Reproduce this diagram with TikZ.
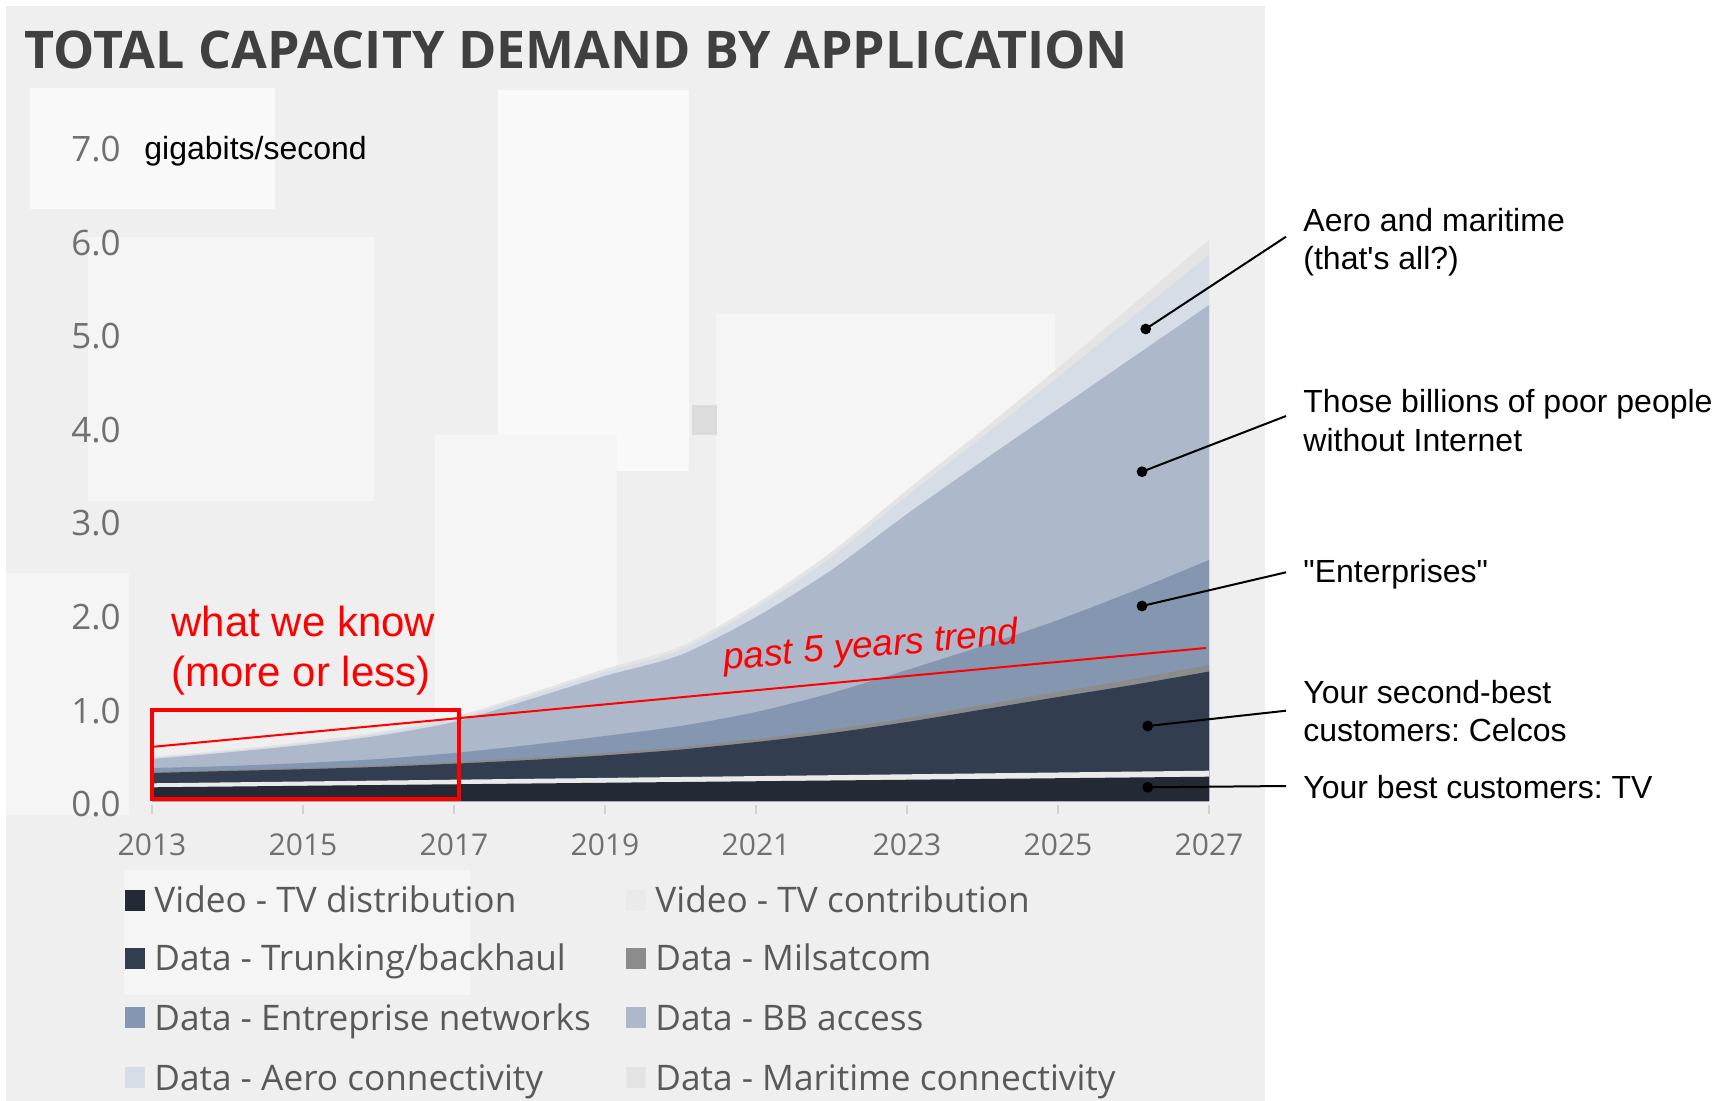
\documentclass[tikz,border=0pt]{standalone}
\usepackage{fontspec}
\setmainfont{Liberation Sans}[Ligatures=TeXOff]
\newfontfamily\osans{Open Sans}
\frenchspacing
\definecolor{bgpanel}{HTML}{EFEFEF}
\definecolor{bglight}{HTML}{F5F5F5}
\definecolor{bgwhite}{HTML}{F9F9F9}
\definecolor{bgshade}{HTML}{DCDCDC}
\definecolor{titlec}{HTML}{404040}
\definecolor{tickgray}{HTML}{707070}
\definecolor{leggray}{HTML}{595959}
\definecolor{tickc}{HTML}{D2D2D2}
\definecolor{cTV}{HTML}{232935}
\definecolor{cContrib}{HTML}{EAEAEA}
\definecolor{cTrunk}{HTML}{333D50}
\definecolor{cMil}{HTML}{8C8C8C}
\definecolor{cEnt}{HTML}{8597B0}
\definecolor{cBB}{HTML}{ADB8CB}
\definecolor{cAero}{HTML}{D6DDE7}
\definecolor{cMar}{HTML}{E4E4E4}
\tikzset{
  ylab/.style={font=\osans\fontsize{17.5}{20}\selectfont, text=tickgray, inner sep=0, anchor=base east},
  yrlbl/.style={font=\osans\fontsize{15}{18}\selectfont, text=tickgray, inner sep=0, anchor=base},
  leg/.style={font=\osans\fontsize{17.6}{20}\selectfont, text=leggray, inner sep=0, anchor=base west},
  legbox/.style={minimum width=10pt, minimum height=10.5pt, inner sep=0, anchor=center},
  note/.style={font=\fontsize{16}{19.25}\selectfont, inner sep=0, anchor=base west, align=left},
  lead/.style={line width=1pt},
  dotmark/.style={circle, fill=black, inner sep=0, minimum size=5.4pt},
  redtxt/.style={text=red, font=\fontsize{21}{25}\selectfont, inner sep=0, anchor=base west, align=left},
  layer/.style={smooth, tension=0.45}
}
\begin{document}
\begin{tikzpicture}[x=0.5pt,y=-0.5pt]
\useasboundingbox (0,0) rectangle (1727,1101);
\fill[white] (0,0) rectangle (1727,1101);
% background panel
\fill[bgpanel] (6,6) rectangle (1265,1101);
\fill[bgwhite] (30,88) rectangle (275,209);
\fill[bglight] (88,237) rectangle (374,501);
\fill[bgwhite] (498,90) rectangle (689,471);
\fill[bglight] (716,314) rectangle (1055,771);
\fill[bglight] (435,435) rectangle (617,790);
\fill[bglight] (6,573) rectangle (129,815);
\fill[bglight] (124,870) rectangle (470,995);
\fill[bgshade] (692,405) rectangle (717,435);

% title
\node[font=\osans\bfseries\fontsize{25.95}{30}\selectfont, text=titlec, inner sep=0, anchor=base west] (title) at (24,69) {TOTAL CAPACITY DEMAND BY APPLICATION};

% stacked areas
\fill[cMar] plot[layer] coordinates {(152,757) (227.5,750) (303,742) (378.5,732) (454,717) (529.5,693.5) (605,669) (680.5,646.5) (756,604) (831.5,552) (907,490) (982.5,430) (1058,368) (1133.5,304) (1209,240)} -- (1209,801) -- (152,801) -- cycle;
\fill[cAero] plot[layer] coordinates {(152,758) (227.5,751.2) (303,743.5) (378.5,733.7) (454,719) (529.5,696) (605,672) (680.5,650) (756,608) (831.5,557) (907,496) (982.5,437) (1058,377) (1133.5,316) (1209,255)} -- (1209,801) -- (152,801) -- cycle;
\fill[cBB] plot[layer] coordinates {(152,759) (227.5,752.4) (303,745) (378.5,735.7) (454,722) (529.5,699.5) (605,676) (680.5,655) (756,617) (831.5,570) (907,514) (982.5,461) (1058,409) (1133.5,357) (1209,305)} -- (1209,801) -- (152,801) -- cycle;
\fill[cEnt] plot[layer] coordinates {(152,768) (227.5,766) (303,763) (378.5,759) (454,753) (529.5,745) (605,736) (680.5,726) (756,712) (831.5,693) (907,670) (982.5,646) (1058,620) (1133.5,591) (1209,560)} -- (1209,801) -- (152,801) -- cycle;
\fill[cMil] plot[layer] coordinates {(152,772) (227.5,770) (303,768) (378.5,765.5) (454,762) (529.5,758) (605,753) (680.5,747) (756,739) (831.5,729.5) (907,718) (982.5,705) (1058,692) (1133.5,679) (1209,665)} -- (1209,801) -- (152,801) -- cycle;
\fill[cTrunk] plot[layer] coordinates {(152,773) (227.5,771) (303,769.2) (378.5,766.9) (454,763.7) (529.5,760) (605,755.3) (680.5,749.6) (756,742) (831.5,733) (907,722) (982.5,709.5) (1058,697) (1133.5,684.8) (1209,671.5)} -- (1209,801) -- (152,801) -- cycle;
\fill[cContrib] (152,783.3) -- (1209,770.7) -- (1209,801) -- (152,801) -- cycle;
\fill[cTV] (152,787.3) -- (1209,776.7) -- (1209,801) -- (152,801) -- cycle;

% x ticks and labels
\foreach \yr in {2013,2015,...,2027} {
  \draw[tickc, line width=1pt] ({152+75.5*(\yr-2013)},805) -- ({152+75.5*(\yr-2013)},814);
  \node[yrlbl] (xl\yr) at ({152+75.5*(\yr-2013)},855) {\yr};
}
% y labels
\foreach \v in {0,...,7} {
  \node[ylab] (yl\v) at (121,{801-93.6*\v+15.7}) {\v.0};
}
\node[font=\fontsize{16}{19}\selectfont, inner sep=0, anchor=base west] (unit) at (144,160) {gigabits/second};

% red annotations
\draw[red, line width=2pt] (152,710) rectangle (458.5,798.7);
\node[redtxt] (know) at (171,686.7) {what we know\\(more or less)};
\coordinate (ts) at (154,746.7);
\coordinate (te) at (1206,648);
\draw[red, line width=1pt] (ts) -- (te);
\node[text=red, font=\itshape\fontsize{18.5}{22}\selectfont, inner sep=0, anchor=base west, rotate=5] (trend) at (724,670) {past 5 years trend};

% leaders
\node[dotmark] (d1) at (1145.7,329) {};
\node[dotmark] (d2) at (1142,471.7) {};
\node[dotmark] (d3) at (1142,606) {};
\node[dotmark] (d4) at (1147.7,726) {};
\node[dotmark] (d5) at (1147.7,787.3) {};
\coordinate (e1) at (1286,236.7);
\coordinate (e2) at (1286,416);
\coordinate (e3) at (1286,572.3);
\coordinate (e4) at (1286,710.7);
\coordinate (e5) at (1286,786);
\draw[lead] (d1.center) -- (e1);
\draw[lead] (d2.center) -- (e2);
\draw[lead] (d3.center) -- (e3);
\draw[lead] (d4.center) -- (e4);
\draw[lead] (d5.center) -- (e5);
\node[note] (n1) at (1303,270) {Aero and maritime\\(that's all?)};
\node[note] (n2) at (1303,451) {Those billions of poor people\\without Internet};
\node[note] (n3) at (1303,582) {"Enterprises"};
\node[note] (n4) at (1303,741.5) {Your second-best\\customers: Celcos};
\node[note] (n5) at (1303,798) {Your best customers: TV};

% legend
\node[legbox, fill=cTV] (s1) at (134.5,900.5) {};
\node[leg] (l1) at (154,912) {Video - TV distribution};
\node[legbox, fill=cContrib] (s2) at (636,900.5) {};
\node[leg] (l2) at (655,912) {Video - TV contribution};
\node[legbox, fill=cTrunk] (s3) at (134.5,958.5) {};
\node[leg] (l3) at (154,970) {Data - Trunking/backhaul};
\node[legbox, fill=cMil] (s4) at (636,958.5) {};
\node[leg] (l4) at (655,970) {Data - Milsatcom};
\node[legbox, fill=cEnt] (s5) at (134.5,1017.5) {};
\node[leg] (l5) at (154,1030) {Data - Entreprise networks};
\node[legbox, fill=cBB] (s6) at (636,1017.5) {};
\node[leg] (l6) at (655,1030) {Data - BB access};
\node[legbox, fill=cAero] (s7) at (134.5,1077) {};
\node[leg] (l7) at (154,1090) {Data - Aero connectivity};
\node[legbox, fill=cMar] (s8) at (636,1077) {};
\node[leg] (l8) at (655,1090) {Data - Maritime connectivity};
\end{tikzpicture}
\end{document}
